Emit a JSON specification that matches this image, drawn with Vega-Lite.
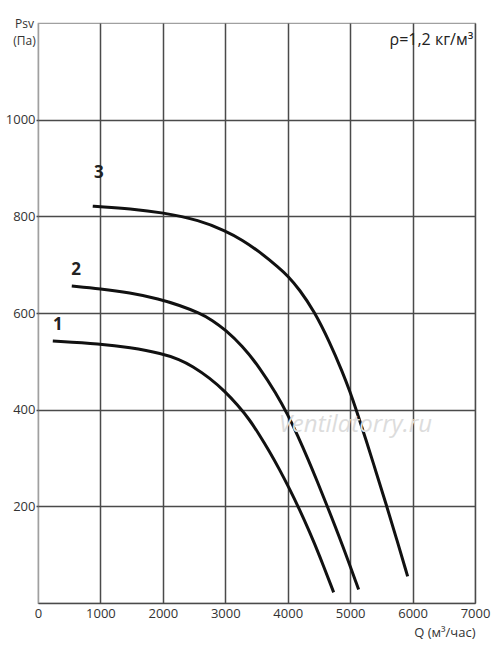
{
  "$schema": "https://vega.github.io/schema/vega-lite/v6.json",
  "width": 437,
  "height": 580,
  "autosize": {"type": "none"},
  "padding": {"left": 38, "top": 23, "right": 25, "bottom": 47},
  "background": "white",
  "config": {
    "view": {"stroke": "#a0a0a0", "strokeWidth": 1.2},
    "font": "Open Sans"
  },
  "datasets": {
    "curves": [
      {"curve": "1", "Q": 237, "P": 542},
      {"curve": "1", "Q": 1001, "P": 536},
      {"curve": "1", "Q": 1465, "P": 529},
      {"curve": "1", "Q": 1993, "P": 516},
      {"curve": "1", "Q": 2265, "P": 504},
      {"curve": "1", "Q": 2474, "P": 490},
      {"curve": "1", "Q": 2746, "P": 466},
      {"curve": "1", "Q": 3002, "P": 437},
      {"curve": "1", "Q": 3194, "P": 410},
      {"curve": "1", "Q": 3386, "P": 380},
      {"curve": "1", "Q": 3546, "P": 348},
      {"curve": "1", "Q": 3706, "P": 314},
      {"curve": "1", "Q": 3866, "P": 277},
      {"curve": "1", "Q": 4026, "P": 237},
      {"curve": "1", "Q": 4187, "P": 194},
      {"curve": "1", "Q": 4347, "P": 148},
      {"curve": "1", "Q": 4507, "P": 99},
      {"curve": "1", "Q": 4736, "P": 22},
      {"curve": "2", "Q": 541, "P": 656},
      {"curve": "2", "Q": 1001, "P": 650},
      {"curve": "2", "Q": 1465, "P": 642},
      {"curve": "2", "Q": 1945, "P": 629},
      {"curve": "2", "Q": 2265, "P": 616},
      {"curve": "2", "Q": 2586, "P": 600},
      {"curve": "2", "Q": 2794, "P": 585},
      {"curve": "2", "Q": 3002, "P": 565},
      {"curve": "2", "Q": 3274, "P": 532},
      {"curve": "2", "Q": 3546, "P": 488},
      {"curve": "2", "Q": 3818, "P": 433},
      {"curve": "2", "Q": 3999, "P": 390},
      {"curve": "2", "Q": 4155, "P": 348},
      {"curve": "2", "Q": 4331, "P": 296},
      {"curve": "2", "Q": 4475, "P": 251},
      {"curve": "2", "Q": 4619, "P": 205},
      {"curve": "2", "Q": 4875, "P": 121},
      {"curve": "2", "Q": 5136, "P": 28},
      {"curve": "3", "Q": 877, "P": 821},
      {"curve": "3", "Q": 1001, "P": 820},
      {"curve": "3", "Q": 1465, "P": 816},
      {"curve": "3", "Q": 1998, "P": 808},
      {"curve": "3", "Q": 2586, "P": 792},
      {"curve": "3", "Q": 3002, "P": 770},
      {"curve": "3", "Q": 3274, "P": 751},
      {"curve": "3", "Q": 3546, "P": 727},
      {"curve": "3", "Q": 3866, "P": 693},
      {"curve": "3", "Q": 3999, "P": 677},
      {"curve": "3", "Q": 4187, "P": 649},
      {"curve": "3", "Q": 4427, "P": 603},
      {"curve": "3", "Q": 4667, "P": 541},
      {"curve": "3", "Q": 4880, "P": 477},
      {"curve": "3", "Q": 5003, "P": 435},
      {"curve": "3", "Q": 5094, "P": 401},
      {"curve": "3", "Q": 5254, "P": 338},
      {"curve": "3", "Q": 5415, "P": 271},
      {"curve": "3", "Q": 5575, "P": 205},
      {"curve": "3", "Q": 5748, "P": 131},
      {"curve": "3", "Q": 5921, "P": 55}
    ],
    "labels": [
      {"label": "1", "Q": 317, "P": 575},
      {"label": "2", "Q": 611, "P": 689},
      {"label": "3", "Q": 973, "P": 889}
    ],
    "density": [
      {"text": "ρ=1,2 кг/м³", "Q": 6972, "P": 1165}
    ],
    "watermark": [
      {"text": "Ventilatorry.ru", "Q": 5083, "P": 368}
    ]
  },
  "layer": [
    {
      "data": {"name": "curves"},
      "mark": {"type": "line", "interpolate": "basis", "strokeWidth": 3, "color": "#111111", "strokeCap": "butt"},
      "encoding": {
        "x": {
          "field": "Q", "type": "quantitative",
          "scale": {"domain": [0, 7000], "nice": false, "zero": false},
          "axis": {
            "values": [0, 1000, 2000, 3000, 4000, 5000, 6000, 7000],
            "format": "d",
            "grid": true,
            "gridColor": {"condition": {"test": "datum.value === 0", "value": "#a0a0a0"}, "value": "#4a4a4a"},
            "gridWidth": 1.5,
            "domainColor": "#4a4a4a",
            "domainWidth": 1.5,
            "ticks": false,
            "labelPadding": 4,
            "labelFontSize": 13,
            "labelColor": "#333333",
            "labelFlush": false,
            "title": "Q (м³/час)",
            "titleFontSize": 13,
            "titleFontWeight": "normal",
            "titleColor": "#333333",
            "titleAlign": "right",
            "titleAnchor": "end",
            "titleBaseline": "middle",
            "titleX": 437,
            "titleY": 29
          }
        },
        "y": {
          "field": "P", "type": "quantitative",
          "scale": {"domain": [0, 1200], "nice": false, "zero": false},
          "axis": {
            "values": [200, 400, 600, 800, 1000],
            "format": "d",
            "grid": true,
            "gridColor": "#4a4a4a",
            "gridWidth": 1.5,
            "domain": false,
            "ticks": true,
            "tickSize": 2,
            "tickColor": "#4a4a4a",
            "tickWidth": 1.5,
            "labelPadding": 1,
            "labelFontSize": 13,
            "labelColor": "#333333",
            "title": ["Psv", "(Па)"],
            "titleFontSize": 12,
            "titleFontWeight": "normal",
            "titleColor": "#333333",
            "titleAngle": 0,
            "titleAlign": "center",
            "titleBaseline": "top",
            "titleLineHeight": 17,
            "titleX": -14,
            "titleY": -5
          }
        },
        "detail": {"field": "curve"}
      }
    },
    {
      "data": {"name": "labels"},
      "mark": {"type": "text", "fontSize": 17, "fontWeight": "bold", "color": "#222222", "align": "center", "baseline": "middle"},
      "encoding": {
        "x": {"field": "Q", "type": "quantitative"},
        "y": {"field": "P", "type": "quantitative"},
        "text": {"field": "label"}
      }
    },
    {
      "data": {"name": "density"},
      "mark": {"type": "text", "fontSize": 16, "color": "#222222", "align": "right", "baseline": "middle"},
      "encoding": {
        "x": {"field": "Q", "type": "quantitative"},
        "y": {"field": "P", "type": "quantitative"},
        "text": {"field": "text"}
      }
    },
    {
      "data": {"name": "watermark"},
      "mark": {"type": "text", "fontSize": 24, "fontStyle": "italic", "color": "#dcdcdc", "align": "center", "baseline": "middle"},
      "encoding": {
        "x": {"field": "Q", "type": "quantitative"},
        "y": {"field": "P", "type": "quantitative"},
        "text": {"field": "text"}
      }
    }
  ]
}
